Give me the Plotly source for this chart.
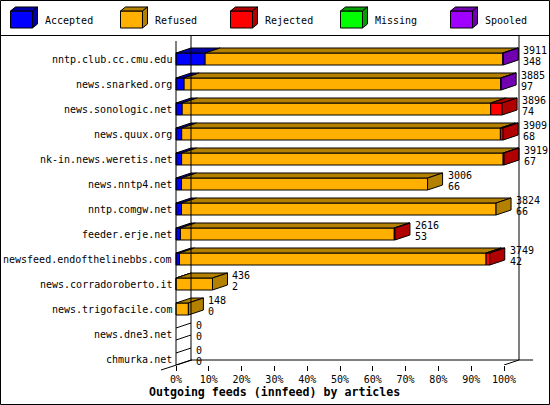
import plotly.graph_objects as go

feeds = ['nntp.club.cc.cmu.edu', 'news.snarked.org', 'news.sonologic.net', 'news.quux.org',
         'nk-in.news.weretis.net', 'news.nntp4.net', 'nntp.comgw.net', 'feeder.erje.net',
         'newsfeed.endofthelinebbs.com', 'news.corradoroberto.it', 'news.trigofacile.com',
         'news.dne3.net', 'chmurka.net']
offered = [3911, 3885, 3896, 3909, 3919, 3006, 3824, 2616, 3749, 436, 148, 0, 0]
accepted = [348, 97, 74, 68, 67, 66, 66, 53, 42, 2, 0, 0, 0]
refused = [3557, 3783, 3686, 3808, 3842, 2940, 3758, 2555, 3663, 434, 148, 0, 0]
rejected = [0, 0, 136, 33, 10, 0, 0, 8, 44, 0, 0, 0, 0]
missing = [0, 0, 0, 0, 0, 0, 0, 0, 0, 0, 0, 0, 0]
spooled = [6, 5, 0, 0, 0, 0, 0, 0, 0, 0, 0, 0, 0]
pct_ticks = [0, 10, 20, 30, 40, 50, 60, 70, 80, 90, 100]

series = [
    ('Accepted', accepted, '#0000FF', '#0000A8'),
    ('Refused', refused, '#FFB000', '#B38000'),
    ('Rejected', rejected, '#FF0000', '#B00000'),
    ('Missing', missing, '#00FF00', '#00A000'),
    ('Spooled', spooled, '#A000FF', '#7000B0'),
]

W, H = 550, 405
FONT = 'DejaVu Sans Mono'
DX = 15 / 3.28      # 3d depth, x units
DY = 0.2            # 3d depth, row units
BAR_H = 0.48
rows = list(range(len(feeds)))
scale = 100.0 / max(offered)


def px(x, y):
    # pixel -> paper coords (margins are 0)
    return x / W, 1 - y / H


fig = go.Figure()

last = [None] * len(feeds)
for k, (name, vals, col, dark) in enumerate(series):
    for i, v in enumerate(vals):
        if v > 0:
            last[i] = k

base = [0.0] * len(feeds)
for k, (name, vals, col, dark) in enumerate(series):
    w = [v * scale if v > 0 else None for v in vals]
    fig.add_trace(go.Bar(orientation='h', y=rows, x=w, base=list(base), width=BAR_H, name=name,
                         marker=dict(color=col, line=dict(color='black', width=1)),
                         showlegend=False))
    tx, ty, sx, sy = [], [], [], []
    for i, v in enumerate(vals):
        if v <= 0:
            continue
        a = base[i]
        b = a + v * scale
        yt, yb = i - BAR_H / 2, i + BAR_H / 2
        tx += [a, b, b + DX, a + DX, a, None]
        ty += [yt, yt, yt - DY, yt - DY, yt, None]
        if last[i] == k:
            sx += [b, b + DX, b + DX, b, b, None]
            sy += [yt, yt - DY, yb - DY, yb, yt, None]
        base[i] = b
    for xs, ys in ((tx, ty), (sx, sy)):
        if xs:
            fig.add_trace(go.Scatter(x=xs, y=ys, mode='lines', fill='toself', fillcolor=dark,
                                     line=dict(color='black', width=1), showlegend=False,
                                     hoverinfo='skip'))

# empty rows: flat 3d outline
zx, zy = [], []
for i, v in enumerate(offered):
    if v == 0:
        yt, yb = i - BAR_H / 2, i + BAR_H / 2
        zx += [0, DX, None, 0, DX, None]
        zy += [yt, yt - DY, None, yb, yb - DY, None]
fig.add_trace(go.Scatter(x=zx, y=zy, mode='lines', line=dict(color='black', width=1),
                         showlegend=False, hoverinfo='skip'))

txt = dict(family=FONT, size=10, color='black')
ann = []
for i, f in enumerate(feeds):
    ann.append(dict(x=0, y=i, xref='x', yref='y', text=f, showarrow=False, xanchor='right',
                    yanchor='middle', xshift=-2, font=txt))
    xe = offered[i] * scale + DX
    ann.append(dict(x=xe, y=i, xref='x', yref='y', text=str(offered[i]), showarrow=False,
                    xanchor='left', yanchor='middle', xshift=3, yshift=9, font=txt))
    ann.append(dict(x=xe, y=i, xref='x', yref='y', text=str(accepted[i]), showarrow=False,
                    xanchor='left', yanchor='middle', xshift=3, yshift=-2, font=txt))

tx_, ty_ = px(274, 392)
ann.append(dict(x=tx_, y=ty_, xref='paper', yref='paper', text='<b>Outgoing feeds (innfeed) by articles</b>',
                showarrow=False, yanchor='middle', font=dict(family=FONT, size=11.6, color='black')))

shapes = []
line = dict(color='black', width=1)
y_top, y_bot = -0.92, 12.24
# walls and floor
shapes.append(dict(type='line', xref='x', yref='y', x0=0, x1=0, y0=y_top + DY, y1=y_bot, line=line))
shapes.append(dict(type='line', xref='x', yref='y', x0=DX, x1=DX, y0=y_top, y1=y_bot - DY, line=line))
shapes.append(dict(type='line', xref='x', yref='y', x0=100 + DX, x1=100 + DX, y0=y_top, y1=y_bot - DY, line=line))
shapes.append(dict(type='line', xref='x', yref='y', x0=DX, x1=100 + DX + 4.3, y0=y_bot - DY, y1=y_bot - DY, line=line))
shapes.append(dict(type='line', xref='x', yref='y', x0=100, x1=100 + DX, y0=y_bot, y1=y_bot - DY, line=line))
a0, b0 = px(161, 370)
a1, b1 = px(192, 360)
shapes.append(dict(type='line', xref='paper', yref='paper', x0=a0, y0=b0, x1=a1, y1=b1, line=line))

# legend with little cubes
for j, (name, vals, col, dark) in enumerate(series):
    X = 10.5 + 110 * j
    pts_front = [(X, 11), (X + 22, 11), (X + 22, 28), (X, 28)]
    pts_top = [(X, 11), (X + 5, 7), (X + 27, 7), (X + 22, 11)]
    pts_side = [(X + 22, 11), (X + 27, 7), (X + 27, 24), (X + 22, 28)]
    for pts, c in ((pts_front, col), (pts_top, dark), (pts_side, dark)):
        p = [px(a, b) for a, b in pts]
        path = 'M ' + ' L '.join(f'{a:.5f} {b:.5f}' for a, b in p) + ' Z'
        shapes.append(dict(type='path', xref='paper', yref='paper', path=path, fillcolor=c, line=line))
    lx, ly = px(X + 32, 20)
    ann.append(dict(x=lx, y=ly, xref='paper', yref='paper', text=name, showarrow=False, xanchor='left',
                    yanchor='middle', font=txt))

s0, s1 = px(0, 35.5)
shapes.append(dict(type='line', xref='paper', yref='paper', x0=0, x1=1, y0=s1, y1=s1, line=line))
shapes.append(dict(type='rect', xref='paper', yref='paper', x0=0.5 / W, x1=549.5 / W,
                   y0=1 - 404.5 / H, y1=1 - 0.5 / H, line=line))

fig.update_layout(
    width=W, height=H, margin=dict(l=0, r=0, t=0, b=0),
    paper_bgcolor='white', plot_bgcolor='white',
    barmode='overlay', hovermode=False,
    xaxis=dict(domain=[150 / W, 540 / W], range=[-176 / 3.28 + 150 / 3.28, (540 - 176) / 3.28],
               tickvals=pct_ticks, ticktext=[f'{v}%' for v in pct_ticks],
               ticks='outside', ticklen=5, tickcolor='black', showline=False, showgrid=False,
               zeroline=False, automargin=False, tickfont=txt),
    yaxis=dict(domain=[1 - 365 / H, 1 - 36 / H], range=[y_bot, y_top], visible=False, automargin=False),
    shapes=shapes, annotations=ann,
)

# page default body margin would shift the chart by 8px
fig.write_html('out.html', config={'displayModeBar': False},
               post_script="document.body.style.margin='0';")
